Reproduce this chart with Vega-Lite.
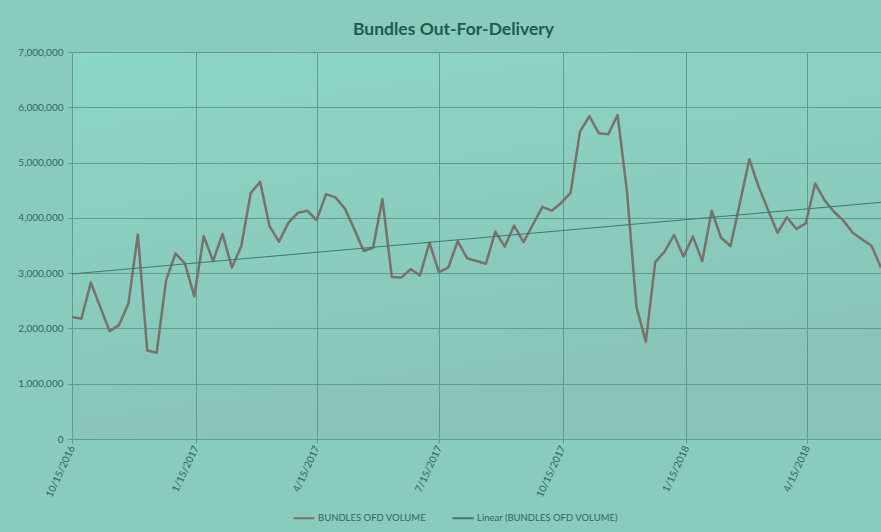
{
  "$schema": "https://vega.github.io/schema/vega-lite/v6.json",
  "autosize": {"type": "none"},
  "width": 809,
  "height": 387,
  "padding": {"left": 72, "top": 52, "right": 0, "bottom": 93},
  "background": "#89cbbd",
  "title": {
    "text": "Bundles Out-For-Delivery",
    "font": "Lato",
    "fontSize": 17.5,
    "fontWeight": "bold",
    "color": "#1e5c4f",
    "anchor": "middle",
    "dx": -23,
    "offset": 9
  },
  "config": {
    "view": {
      "stroke": null,
      "fill": {"gradient": "linear", "x1": 0, "y1": 0, "x2": 0.3, "y2": 1,
        "stops": [{"offset": 0, "color": "#8cd6c6"}, {"offset": 1, "color": "#88c4b7"}]}
    },
    "axis": {
      "labelFont": "Lato",
      "labelFontSize": 10,
      "labelColor": "#2f6a5f",
      "gridColor": "#5f9b8e",
      "gridWidth": 1,
      "domainColor": "#5f9b8e",
      "tickColor": "#5f9b8e",
      "tickSize": 4,
      "title": null
    },
    "legend": {
      "labelFont": "Lato",
      "labelFontSize": 9.5,
      "labelColor": "#2f6a5f"
    }
  },
  "data": {
    "format": {"parse": {"date": "date"}},
    "values": [
      {"date": "2016-10-15", "volume": 2205000},
      {"date": "2016-10-22", "volume": 2175000},
      {"date": "2016-10-29", "volume": 2830000},
      {"date": "2016-11-05", "volume": 2390000},
      {"date": "2016-11-12", "volume": 1950000},
      {"date": "2016-11-19", "volume": 2060000},
      {"date": "2016-11-26", "volume": 2450000},
      {"date": "2016-12-03", "volume": 3700000},
      {"date": "2016-12-10", "volume": 1600000},
      {"date": "2016-12-17", "volume": 1560000},
      {"date": "2016-12-24", "volume": 2870000},
      {"date": "2016-12-31", "volume": 3355000},
      {"date": "2017-01-07", "volume": 3175000},
      {"date": "2017-01-14", "volume": 2580000},
      {"date": "2017-01-21", "volume": 3670000},
      {"date": "2017-01-28", "volume": 3220000},
      {"date": "2017-02-04", "volume": 3710000},
      {"date": "2017-02-11", "volume": 3100000},
      {"date": "2017-02-18", "volume": 3490000},
      {"date": "2017-02-25", "volume": 4450000},
      {"date": "2017-03-04", "volume": 4650000},
      {"date": "2017-03-11", "volume": 3850000},
      {"date": "2017-03-18", "volume": 3570000},
      {"date": "2017-03-25", "volume": 3910000},
      {"date": "2017-04-01", "volume": 4090000},
      {"date": "2017-04-08", "volume": 4130000},
      {"date": "2017-04-15", "volume": 3960000},
      {"date": "2017-04-22", "volume": 4430000},
      {"date": "2017-04-29", "volume": 4370000},
      {"date": "2017-05-06", "volume": 4170000},
      {"date": "2017-05-13", "volume": 3800000},
      {"date": "2017-05-20", "volume": 3400000},
      {"date": "2017-05-27", "volume": 3460000},
      {"date": "2017-06-03", "volume": 4340000},
      {"date": "2017-06-10", "volume": 2930000},
      {"date": "2017-06-17", "volume": 2920000},
      {"date": "2017-06-24", "volume": 3070000},
      {"date": "2017-07-01", "volume": 2960000},
      {"date": "2017-07-08", "volume": 3550000},
      {"date": "2017-07-15", "volume": 3020000},
      {"date": "2017-07-22", "volume": 3100000},
      {"date": "2017-07-29", "volume": 3580000},
      {"date": "2017-08-05", "volume": 3270000},
      {"date": "2017-08-12", "volume": 3220000},
      {"date": "2017-08-19", "volume": 3170000},
      {"date": "2017-08-26", "volume": 3750000},
      {"date": "2017-09-02", "volume": 3480000},
      {"date": "2017-09-09", "volume": 3860000},
      {"date": "2017-09-16", "volume": 3560000},
      {"date": "2017-09-23", "volume": 3880000},
      {"date": "2017-09-30", "volume": 4200000},
      {"date": "2017-10-07", "volume": 4130000},
      {"date": "2017-10-14", "volume": 4270000},
      {"date": "2017-10-21", "volume": 4450000},
      {"date": "2017-10-28", "volume": 5560000},
      {"date": "2017-11-04", "volume": 5840000},
      {"date": "2017-11-11", "volume": 5530000},
      {"date": "2017-11-18", "volume": 5510000},
      {"date": "2017-11-25", "volume": 5860000},
      {"date": "2017-12-02", "volume": 4470000},
      {"date": "2017-12-09", "volume": 2390000},
      {"date": "2017-12-16", "volume": 1760000},
      {"date": "2017-12-23", "volume": 3200000},
      {"date": "2017-12-30", "volume": 3390000},
      {"date": "2018-01-06", "volume": 3690000},
      {"date": "2018-01-13", "volume": 3300000},
      {"date": "2018-01-20", "volume": 3660000},
      {"date": "2018-01-27", "volume": 3220000},
      {"date": "2018-02-03", "volume": 4130000},
      {"date": "2018-02-10", "volume": 3640000},
      {"date": "2018-02-17", "volume": 3490000},
      {"date": "2018-02-24", "volume": 4270000},
      {"date": "2018-03-03", "volume": 5060000},
      {"date": "2018-03-10", "volume": 4560000},
      {"date": "2018-03-17", "volume": 4140000},
      {"date": "2018-03-24", "volume": 3730000},
      {"date": "2018-03-31", "volume": 4010000},
      {"date": "2018-04-07", "volume": 3800000},
      {"date": "2018-04-14", "volume": 3900000},
      {"date": "2018-04-21", "volume": 4620000},
      {"date": "2018-04-28", "volume": 4320000},
      {"date": "2018-05-05", "volume": 4110000},
      {"date": "2018-05-12", "volume": 3950000},
      {"date": "2018-05-19", "volume": 3730000},
      {"date": "2018-05-26", "volume": 3610000},
      {"date": "2018-06-02", "volume": 3490000},
      {"date": "2018-06-09", "volume": 3100000}
    ]
  },
  "encoding": {
    "x": {
      "field": "date",
      "type": "temporal",
      "scale": {"type": "utc", "nice": false},
      "axis": {
        "values": [
          {"year": 2016, "month": 10, "date": 15, "utc": true},
          {"year": 2017, "month": 1, "date": 15, "utc": true},
          {"year": 2017, "month": 4, "date": 15, "utc": true},
          {"year": 2017, "month": 7, "date": 15, "utc": true},
          {"year": 2017, "month": 10, "date": 15, "utc": true},
          {"year": 2018, "month": 1, "date": 15, "utc": true},
          {"year": 2018, "month": 4, "date": 15, "utc": true}
        ],
        "format": "%-m/%-d/%Y",
        "labelAngle": -65,
        "labelPadding": 3,
        "grid": true
      }
    },
    "y": {
      "field": "volume",
      "type": "quantitative",
      "scale": {"domain": [0, 7000000], "nice": false},
      "axis": {
        "values": [0, 1000000, 2000000, 3000000, 4000000, 5000000, 6000000, 7000000],
        "format": ",d",
        "labelPadding": 5,
        "grid": true
      }
    }
  },
  "layer": [
    {
      "mark": {"type": "line", "strokeWidth": 2.5, "strokeJoin": "round"},
      "encoding": {
        "color": {
          "datum": "BUNDLES OFD VOLUME",
          "type": "nominal",
          "scale": {"domain": ["BUNDLES OFD VOLUME", "Linear (BUNDLES OFD VOLUME)"], "range": ["#79716b", "#3c7a6c"]},
          "legend": {
            "title": null,
            "orient": "none",
            "direction": "horizontal",
            "legendX": 220,
            "legendY": 454,
            "symbolType": "stroke",
            "symbolSize": 450,
            "symbolStrokeWidth": 2,
            "columnPadding": 22,
            "labelOffset": 2
          }
        }
      }
    },
    {
      "transform": [{"regression": "volume", "on": "date"}],
      "mark": {"type": "line", "strokeWidth": 1},
      "encoding": {
        "color": {"datum": "Linear (BUNDLES OFD VOLUME)", "type": "nominal"}
      }
    }
  ]
}
